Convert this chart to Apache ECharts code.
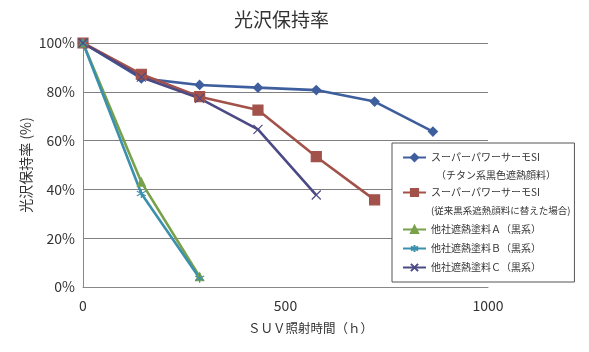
<!DOCTYPE html>
<html>
<head>
<meta charset="utf-8">
<script src="https://cdn.jsdelivr.net/npm/echarts@6/dist/echarts.min.js"></script>
<style>
html,body{margin:0;padding:0;background:#fff;}
#chart{width:589px;height:352px;}
</style>
</head>
<body>
<div id="chart"></div>
<script>
// ---- data ----
const hours = [0, 144, 288, 432, 576, 720, 864];
const siTitan = [100, 85.5, 82.8, 81.7, 80.7, 76, 63.7];
const siConventional = [100, 87.2, 78, 72.5, 53.4, 35.7];
const otherA = [100, 43, 4.2];
const otherB = [100, 38.3, 3.6];
const otherC = [100, 86, 77.3, 64.6, 37.7];
const xTicks = [0, 500, 1000];
const yTicks = [0, 20, 40, 60, 80, 100];

const titleText = '光沢保持率';
const yName = '光沢保持率 (%)';
const xName = 'ＳＵＶ照射時間（ｈ）';
const legendLabels = {
  siT: 'スーパーパワーサーモSI',
  siT2: '（チタン系黒色遮熱顔料）',
  siC: 'スーパーパワーサーモSI',
  siC2: '(従来黒系遮熱顔料に替えた場合)',
  a: '他社遮熱塗料Ａ（黒系）',
  b: '他社遮熱塗料Ｂ（黒系）',
  c: '他社遮熱塗料Ｃ（黒系）'
};

function pairs(vals) { return vals.map((v, i) => [hours[i], v]); }

const FONT = '"Noto Sans CJK JP", "Noto Sans", sans-serif';
const colors = { siT: '#3e5e9e', siC: '#a2524a', a: '#79a14c', b: '#3b90ae', c: '#4b4a84' };

function lineSeries(key, vals, symbol, size) {
  return {
    name: key, type: 'line', data: pairs(vals),
    symbol: symbol, symbolSize: size,
    lineStyle: { color: colors[key], width: 2.6 },
    itemStyle: { color: colors[key], borderColor: colors[key], borderWidth: 1.2 },
    z: 3
  };
}
function dummy(key) {
  return {
    name: key, type: 'line', data: [], symbol: 'none',
    lineStyle: { color: 'rgba(0,0,0,0)' }, itemStyle: { color: 'rgba(0,0,0,0)' }
  };
}

const chart = echarts.init(document.getElementById('chart'), null, { renderer: 'canvas' });
chart.setOption({
  animation: false,
  backgroundColor: '#fff',
  title: {
    text: titleText, left: 229, top: 5,
    textStyle: { fontFamily: FONT, fontSize: 19, fontWeight: 'normal', color: '#333' }
  },
  grid: { left: 83, right: 101, top: 43, bottom: 65, containLabel: false },
  xAxis: {
    type: 'value', min: xTicks[0], max: xTicks[xTicks.length - 1], interval: xTicks[1] - xTicks[0],
    name: xName, nameLocation: 'middle', nameGap: 35, nameMoveOverlap: false,
    nameTextStyle: { fontFamily: FONT, fontSize: 12.5, color: '#333', padding: [0, 0, 0, 50] },
    axisLine: { show: true, lineStyle: { color: '#888', width: 1 } },
    axisTick: { show: false },
    splitLine: { show: false },
    axisLabel: { fontFamily: FONT, fontSize: 14, color: '#333', margin: 12, formatter: v => String(v) }
  },
  yAxis: {
    type: 'value', min: yTicks[0], max: yTicks[yTicks.length - 1], interval: yTicks[1] - yTicks[0],
    name: yName, nameLocation: 'middle', nameGap: 50, nameMoveOverlap: false,
    nameTextStyle: { fontFamily: FONT, fontSize: 14, color: '#333' },
    axisLine: { show: true, lineStyle: { color: '#888', width: 1 } },
    axisTick: { show: false },
    splitLine: { show: true, lineStyle: { color: '#808080', width: 1 } },
    axisLabel: { fontFamily: FONT, fontSize: 14, color: '#333', margin: 8, formatter: '{value}%' }
  },
  legend: {
    orient: 'vertical', left: 392, top: 143,
    padding: [7, 4, 5, 10],
    itemGap: 0, itemWidth: 23, itemHeight: 9,
    backgroundColor: '#fff', borderColor: '#555', borderWidth: 1,
    textStyle: { fontFamily: FONT, fontSize: 10, color: '#333', lineHeight: 15 },
    formatter: n => legendLabels[n],
    data: [
      { name: 'siT' },
      { name: 'siT2', textStyle: { padding: [0, 0, 5, 5] } },
      { name: 'siC' },
      { name: 'siC2', textStyle: { padding: [0, 0, 5, 0], fontSize: 9.5 } },
      { name: 'a', textStyle: { padding: [2, 0, 2, 0] } },
      { name: 'b', textStyle: { padding: [2, 0, 2, 0] } },
      { name: 'c', textStyle: { padding: [2, 0, 2, 0] } }
    ]
  },
  series: [
    lineSeries('siT', siTitan, 'diamond', 9),
    lineSeries('siC', siConventional, 'rect', 10),
    lineSeries('a', otherA, 'triangle', 8),
    lineSeries('b', otherB, 'path://M5,0L5,10M0.7,2.5L9.3,7.5M0.7,7.5L9.3,2.5', 9),
    lineSeries('c', otherC, 'path://M0,0L10,10M0,10L10,0', 9),
    dummy('siT2'),
    dummy('siC2')
  ]
});
</script>
</body>
</html>
